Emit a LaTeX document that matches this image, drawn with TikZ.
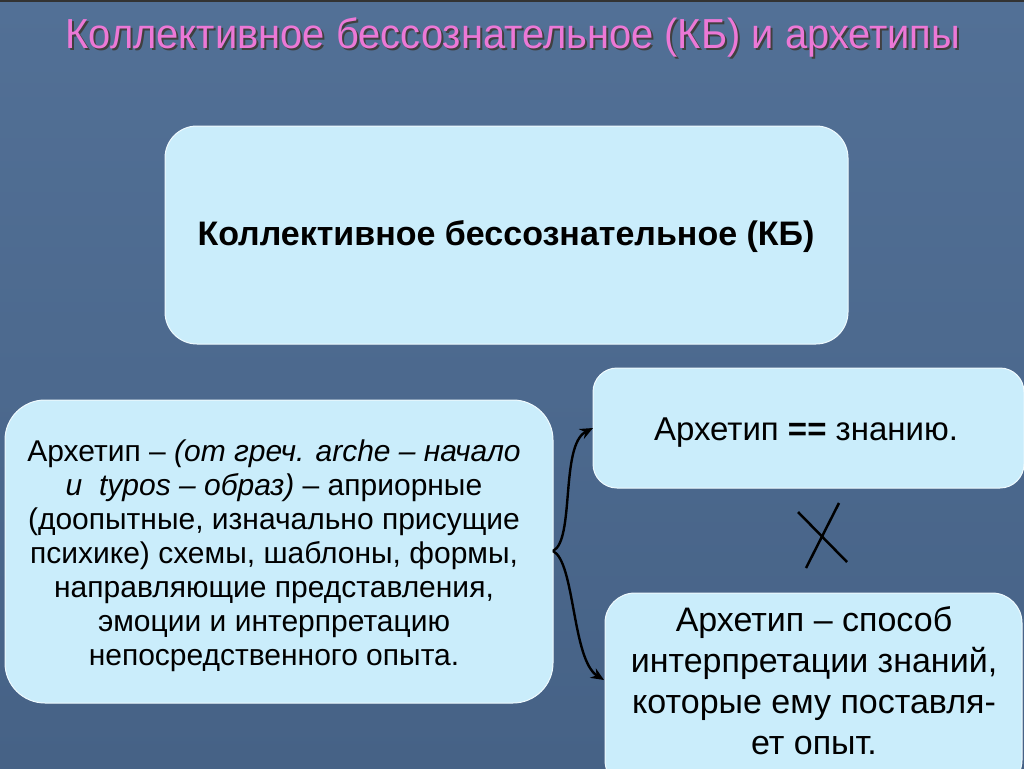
\documentclass[tikz,border=0pt]{standalone}
\usepackage{fontspec}
\setmainfont{Liberation Sans}
\usetikzlibrary{arrows.meta,shadows}
\definecolor{bgtop}{RGB}{82,112,150}
\definecolor{bgbot}{RGB}{70,98,134}
\definecolor{boxfill}{RGB}{202,237,251}
\definecolor{titlepink}{RGB}{236,120,214}
\tikzset{
  card/.style={fill=boxfill, draw=white!70!boxfill, line width=1pt, inner sep=0pt},
  body/.style={align=center, text=black},
  link/.style={line width=2.4pt, -{Stealth[length=13pt,width=11pt]}},
}
\begin{document}
\begin{tikzpicture}[x=1pt,y=-1pt]
\useasboundingbox (0,0) rectangle (1024,768);
\shade[top color=bgtop, bottom color=bgbot] (0,0) rectangle (1024,768);
\fill[black!80] (0,0) rectangle (1024,2);
% title
\node[text=black!75, font=\fontsize{42}{42}\selectfont, xscale=0.95] at (515,39) {Коллективное бессознательное (КБ) и архетипы};
\node[text=titlepink, font=\fontsize{42}{42}\selectfont, xscale=0.95] (title) at (513,37) {Коллективное бессознательное (КБ) и архетипы};
% boxes
\draw[card, rounded corners=32pt] (165,126) rectangle (848,344);
\node[font=\bfseries\fontsize{34}{38}\selectfont, text=black] (kb) at (506,237) {Коллективное бессознательное (КБ)};
\draw[card, rounded corners=40pt] (5,400) rectangle (553,703);
\coordinate (lefte) at (553,551);
\node[body, font=\fontsize{30}{34}\selectfont] (left) at (274,556) {Архетип – \textit{(от греч. arche – начало}\\\textit{и\ \ typos – образ)} – априорные\\(доопытные, изначально присущие\\психике) схемы, шаблоны, формы,\\направляющие представления,\\эмоции и интерпретацию\\непосредственного опыта.};
\draw[card, rounded corners=24pt] (593,368) rectangle (1024,488);
\coordinate (trw) at (593,428);
\node[body, font=\fontsize{33}{38}\selectfont] (tr) at (806,433) {Архетип \textbf{==} знанию.};
\draw[card, rounded corners=30pt] (605,593) rectangle (1022,790);
\coordinate (brw) at (604,680);
\node[body, font=\fontsize{34}{41}\selectfont] (br) at (814,681) {Архетип – способ\\интерпретации знаний,\\которые ему поставля-\\ет опыт.};
% connectors
\draw[link] (lefte) .. controls (575,540) and (560,445) .. (trw);
\draw[link] (lefte) .. controls (575,562) and (572,660) .. (brw);
% cross
\coordinate (x1a) at (839,503);
\coordinate (x1b) at (806,568);
\coordinate (x2a) at (798,512);
\coordinate (x2b) at (847,562);
\draw[line width=2.5pt, black] (x1a) -- (x1b);
\draw[line width=2.5pt, black] (x2a) -- (x2b);
\end{tikzpicture}
\end{document}
